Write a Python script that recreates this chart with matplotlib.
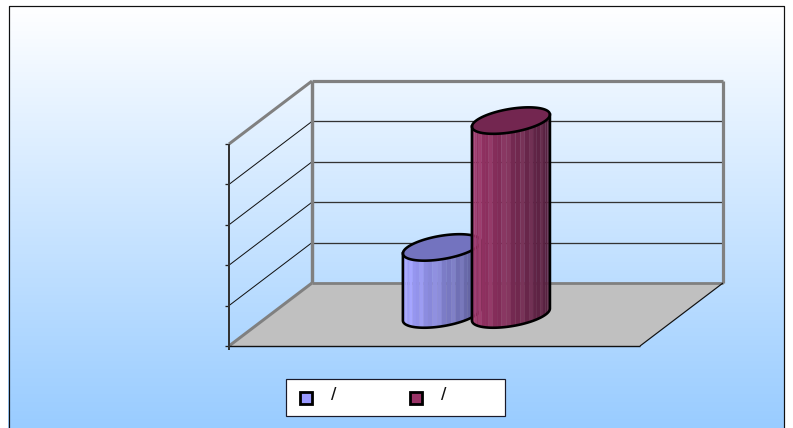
import numpy as np
import matplotlib
matplotlib.use('Agg')
import matplotlib.pyplot as plt
from matplotlib.colors import LinearSegmentedColormap
from matplotlib.patches import Polygon, Rectangle

# values
series_labels = ['/', '/']
series_values = [1.66, 4.8]
series_slots = [0.417, 0.585]
y_ticks = [0, 1, 2, 3, 4, 5]

side_left = [(160, 160, 255), (153, 51, 102)]
side_right = [(92, 92, 150), (84, 32, 62)]
top_colors = ['#7373BF', '#732650']
legend_colors = ['#9999FF', '#993366']

# chart box in pixels
FRONT_X, FRONT_Y = 229, 346
FRONT_W = 411
UNIT_H = 40.4
DEPTH_X, DEPTH_Y = 83, -63
GRAY = '#808080'
PX = 0.72


def project(x, depth, value):
    px = FRONT_X + x * FRONT_W + depth * DEPTH_X
    py = FRONT_Y + depth * DEPTH_Y - value * UNIT_H
    return px, py


def wall_line(ax, p1, p2, color, width, zorder=3):
    ax.plot([p1[0], p2[0]], [p1[1], p2[1]], color=color, lw=width * PX,
            solid_capstyle='butt', zorder=zorder)


def ring(cx, cy, t):
    return cx + 39 * np.cos(t), cy - 6 * np.cos(t) + 11.8 * np.sin(t)


def draw_cylinder(ax, slot, value, i, zorder):
    bx, by = project(slot, 0.5, 0)
    tx, ty = project(slot, 0.5, value)
    t = np.linspace(np.pi, 0, 27)
    streaks = [3, 5, 8, 11, 12, 15, 17, 20, 23]
    for k in range(len(t) - 1):
        x0, y0 = ring(bx, by, t[k])
        x1, y1 = ring(bx, by, t[k + 1])
        x2, y2 = ring(tx, ty, t[k + 1])
        x3, y3 = ring(tx, ty, t[k])
        f = (x0 + x1) / 2 - (bx - 39)
        f = f / 78
        rgb = np.array(side_left[i]) * (1 - f) + np.array(side_right[i]) * f
        if k in streaks:
            rgb = rgb + 12
        ax.add_patch(Polygon([(x0, y0), (x1, y1), (x2, y2), (x3, y3)],
                             closed=True, fc=np.clip(rgb, 0, 255) / 255,
                             ec=np.clip(rgb, 0, 255) / 255, lw=0.2, zorder=zorder))
    low = np.linspace(np.pi, 0, 80)
    xb, yb = ring(bx, by, low)
    xt, yt = ring(tx, ty, low)
    ax.plot(np.r_[xt[0], xb, xt[-1]], np.r_[yt[0], yb, yt[-1]], color='black',
            lw=2.6 * PX, zorder=zorder + 0.2)
    full = np.linspace(0, 2 * np.pi, 160)
    xe, ye = ring(tx, ty, full)
    ax.add_patch(Polygon(np.c_[xe, ye], closed=True, fc=top_colors[i],
                         ec='black', lw=2.6 * PX, zorder=zorder + 0.1))


def main():
    fig = plt.figure(figsize=(7.93, 4.28), dpi=100, facecolor='white')
    ax = fig.add_axes([0, 0, 1, 1])

    cmap = LinearSegmentedColormap.from_list('bg', ['#FFFFFF', '#99CCFF'])
    grad = np.linspace(0, 1, 256).reshape(-1, 1)
    ax.imshow(grad, cmap=cmap, aspect='auto', extent=[8, 784, 428, 5], zorder=0)
    ax.set_xlim(0, 793)
    ax.set_ylim(428, 0)
    ax.axis('off')

    # outer border
    ax.plot([8.5, 8.5, 784, 784], [428, 5.5, 5.5, 428], color='#111111',
            lw=1.2 * PX, zorder=1)

    # floor
    ax.add_patch(Polygon([project(0, 0, 0), project(1, 0, 0),
                          project(1, 1, 0), project(0, 1, 0)],
                         closed=True, fc='#C0C0C0', ec='none', zorder=1))

    # gridlines and ticks
    top = y_ticks[-1]
    for v in y_ticks[1:-1]:
        wall_line(ax, project(0, 0, v), project(0, 1, v), '#111111', 1.0, 2)
        wall_line(ax, project(0, 1, v), project(1, 1, v), '#333333', 1.3, 2)
    for v in y_ticks:
        x0, y0 = project(0, 0, v)
        wall_line(ax, (x0 - 4, y0), (x0, y0), '#222222', 1.3, 4)

    # wall frame
    wall_line(ax, project(0, 0, top), project(0, 1, top), GRAY, 3)
    wall_line(ax, project(0, 0, 0), project(0, 1, 0), GRAY, 3)
    wall_line(ax, project(0, 1, 0), project(0, 1, top), GRAY, 3.4)
    wall_line(ax, project(0, 1, top), project(1, 1, top), GRAY, 3.2)
    wall_line(ax, project(1, 1, 0), project(1, 1, top), GRAY, 3.2)
    wall_line(ax, project(0, 1, 0), project(1, 1, 0), GRAY, 2.8)

    # front edges
    wall_line(ax, project(0, 0, 0), project(1, 0, 0), '#111111', 1.4, 4)
    wall_line(ax, project(1, 0, 0), project(1, 1, 0), '#111111', 1.2, 4)
    x0, y0 = project(0, 0, 0)
    wall_line(ax, (x0, y0 + 4), project(0, 0, top), '#333333', 2, 4)

    # cylinders
    for i in range(len(series_values)):
        draw_cylinder(ax, series_slots[i], series_values[i], i, 5 + i)

    # legend
    ax.add_patch(Rectangle((285.5, 379), 219, 37, fc='white', ec='#1A1A2A',
                           lw=1.2 * PX, zorder=8))
    for i in range(len(series_labels)):
        lx = 299 + 110 * i
        ax.add_patch(Rectangle((lx + 0.5, 391.5), 12.5, 12.5, fc=legend_colors[i],
                               ec='black', lw=2.8 * PX, zorder=9))
        ax.text(lx + 35, 395.5, series_labels[i], fontsize=14, color='#111111',
                family='Liberation Sans', ha='center', va='center', zorder=9)

    fig.savefig('out.png', dpi=100)


if __name__ == '__main__':
    main()
